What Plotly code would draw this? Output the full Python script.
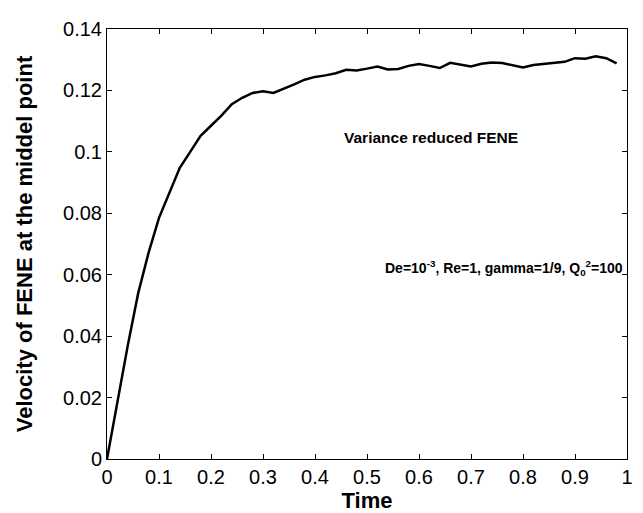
import plotly.graph_objects as go

time = [0.00, 0.02, 0.04, 0.06, 0.08, 0.10, 0.12, 0.14, 0.16, 0.18,
        0.20, 0.22, 0.24, 0.26, 0.28, 0.30, 0.32, 0.34, 0.36, 0.38,
        0.40, 0.42, 0.44, 0.46, 0.48, 0.50, 0.52, 0.54, 0.56, 0.58,
        0.60, 0.62, 0.64, 0.66, 0.68, 0.70, 0.72, 0.74, 0.76, 0.78,
        0.80, 0.82, 0.84, 0.86, 0.88, 0.90, 0.92, 0.94, 0.96, 0.98]
velocity = [0.0, 0.019, 0.037, 0.0540, 0.0672, 0.0785, 0.0865, 0.0948, 0.1000, 0.1052,
            0.1085, 0.1118, 0.1155, 0.1176, 0.1192, 0.1197, 0.1192, 0.1205, 0.1220, 0.1235,
            0.1244, 0.1249, 0.1256, 0.1267, 0.1265, 0.1271, 0.1278, 0.1268, 0.1270, 0.1280,
            0.1286, 0.1280, 0.1273, 0.1290, 0.1285, 0.1278, 0.1287, 0.1291, 0.1289, 0.1282,
            0.1275, 0.1283, 0.1286, 0.1290, 0.1293, 0.1305, 0.1303, 0.1311, 0.1305, 0.1288]

x_ticks = [0, 0.1, 0.2, 0.3, 0.4, 0.5, 0.6, 0.7, 0.8, 0.9, 1]
x_labels = ["0", "0.1", "0.2", "0.3", "0.4", "0.5", "0.6", "0.7", "0.8", "0.9", "1"]
y_ticks = [0, 0.02, 0.04, 0.06, 0.08, 0.10, 0.12, 0.14]
y_labels = ["0", "0.02", "0.04", "0.06", "0.08", "0.1", "0.12", "0.14"]

FONT = "Liberation Sans, Arial, Helvetica, sans-serif"

fig = go.Figure()
fig.add_trace(go.Scatter(x=time, y=velocity, mode="lines",
                         line=dict(color="black", width=2.5), showlegend=False))

axis_common = dict(showline=True, linecolor="black", linewidth=1, mirror="ticks",
                   ticks="inside", ticklen=5, tickcolor="black", tickwidth=1,
                   showgrid=False, zeroline=False, ticklabeloverflow="allow",
                   tickfont=dict(family=FONT, size=20, color="black"))

fig.update_xaxes(range=[0, 1], tickvals=x_ticks, ticktext=x_labels,
                 title=dict(text="<b>Time</b>", font=dict(family=FONT, size=22, color="black"), standoff=0),
                 **axis_common)
fig.update_yaxes(range=[0, 0.14], tickvals=y_ticks, ticktext=y_labels,
                 title=dict(text="<b>Velocity of FENE at the middel point</b>",
                            font=dict(family=FONT, size=22, color="black"), standoff=24),
                 **axis_common)

fig.add_annotation(x=0.451, y=0.1048, xref="x", yref="y", xanchor="left", yanchor="middle",
                   text="<b>Variance reduced FENE</b>", showarrow=False,
                   font=dict(family=FONT, size=15.5, color="black"))
fig.add_annotation(x=0.996, y=0.0621, xref="x", yref="y", xanchor="right", yanchor="middle",
                   text="<b>De=10<sup>-3</sup>, Re=1, gamma=1/9, Q<sub>0</sub><sup>2</sup>=100</b>",
                   showarrow=False, font=dict(family=FONT, size=14, color="black"))

fig.update_layout(width=635, height=505, margin=dict(l=99, r=13, t=10, b=54),
                  paper_bgcolor="white", plot_bgcolor="white",
                  font=dict(family=FONT, color="black"))

fig.write_html("out.html")
